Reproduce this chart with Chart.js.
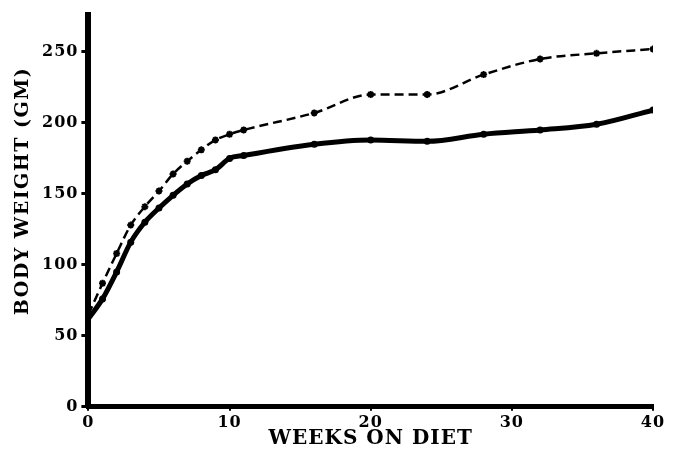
<!DOCTYPE html>
<html>
<head>
<meta charset="utf-8">
<script src="https://cdn.jsdelivr.net/npm/chart.js@4.4.1/dist/chart.umd.min.js"></script>
<style>
  html, body { margin: 0; padding: 0; background: #fff; }
  #wrap { width: 674px; height: 449px; }
</style>
</head>
<body>
<div id="wrap"><canvas id="weightChart"></canvas></div>
<script>
// weeks on diet
const weeks = [0, 1, 2, 3, 4, 5, 6, 7, 8, 9, 10, 11, 16, 20, 24, 28, 32, 36, 40];
// solid curve with dots
const solidWeights = [62, 76, 95, 116, 130, 140, 149, 157, 163, 167, 175, 177, 185, 188, 187, 192, 195, 199, 209];
// dashed curve with stars
const dashedWeights = [65, 87, 108, 128, 141, 152, 164, 173, 181, 188, 192, 195, 207, 220, 220, 234, 245, 249, 252];
const yTicks = [0, 50, 100, 150, 200, 250];
const xTicks = [0, 10, 20, 30, 40];
const yTitle = 'BODY WEIGHT (GM)';
const xTitle = 'WEEKS ON DIET';

const font = 'DejaVu Serif';

// old print type is spaced a bit wide
const spacing = {
  id: 'spacing',
  beforeDraw(chart) {
    chart.ctx.letterSpacing = '1px';
  }
};

// y title sits a little above the middle of the axis in the original
const yTitlePlugin = {
  id: 'yTitle',
  afterDraw(chart) {
    const c = chart.ctx;
    c.save();
    c.translate(23, 191);
    c.rotate(-Math.PI / 2);
    c.font = 'bold 19px "' + font + '"';
    c.letterSpacing = '1.5px';
    c.fillStyle = '#000';
    c.textAlign = 'center';
    c.textBaseline = 'middle';
    c.fillText(yTitle, 0, 0);
    c.restore();
  }
};

const ctx = document.getElementById('weightChart').getContext('2d');
new Chart(ctx, {
  type: 'line',
  data: {
    datasets: [{
      data: weeks.map((w, i) => ({ x: w, y: dashedWeights[i] })),
      borderColor: '#000',
      borderWidth: 2.5,
      borderDash: [9, 5],
      cubicInterpolationMode: 'monotone',
      pointStyle: 'star',
      pointRadius: ctx => ctx.dataIndex === 0 ? 0 : 3.5,
      pointBorderWidth: 2,
      pointBorderColor: '#000',
      pointBackgroundColor: '#000'
    }, {
      data: weeks.map((w, i) => ({ x: w, y: solidWeights[i] })),
      borderColor: '#000',
      borderWidth: 5,
      cubicInterpolationMode: 'monotone',
      pointStyle: 'circle',
      pointRadius: ctx => ctx.dataIndex === 0 ? 0 : 3.5,
      pointBorderWidth: 0,
      pointBackgroundColor: '#000'
    }]
  },
  options: {
    responsive: true,
    maintainAspectRatio: false,
    animation: false,
    events: [],
    layout: { padding: { top: 15, right: 21, left: 42, bottom: 0 } },
    plugins: { legend: { display: false }, tooltip: { enabled: false } },
    scales: {
      x: {
        type: 'linear',
        min: 0,
        max: 40,
        afterBuildTicks: s => { s.ticks = xTicks.map(v => ({ value: v })); },
        ticks: { color: '#000', font: { family: font, size: 16, weight: 'bold' }, padding: 2, maxRotation: 0 },
        grid: { drawOnChartArea: false, drawTicks: true, tickLength: 4, lineWidth: 2, color: '#000' },
        border: { display: true, width: 5, color: '#000' },
        title: {
          display: true,
          text: xTitle,
          color: '#000',
          font: { family: font, size: 20, weight: 'bold' },
          padding: { top: -7, bottom: -2 }
        }
      },
      y: {
        min: 0,
        max: 276,
        afterBuildTicks: s => { s.ticks = yTicks.map(v => ({ value: v })); },
        ticks: { color: '#000', font: { family: font, size: 16, weight: 'bold' }, padding: 3 },
        grid: { drawOnChartArea: false, drawTicks: true, tickLength: 7, lineWidth: 3, color: '#000' },
        border: { display: true, width: 6, color: '#000' }
      }
    }
  },
  plugins: [spacing, yTitlePlugin]
});
</script>
</body>
</html>
